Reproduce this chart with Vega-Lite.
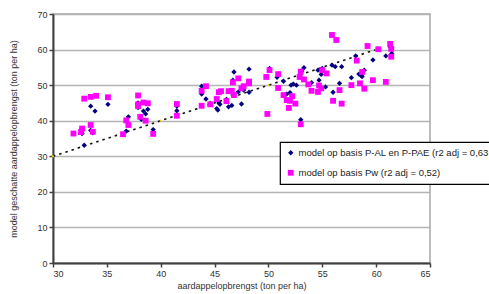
{
  "$schema": "https://vega.github.io/schema/vega-lite/v6.json",
  "width": 377,
  "height": 249,
  "autosize": {"type": "none"},
  "padding": {"left": 53, "top": 14, "right": 59, "bottom": 31},
  "background": "white",
  "config": {
    "font": "Liberation Sans",
    "view": {"stroke": "#a8a8a8", "strokeWidth": 1.5},
    "axis": {
      "labelFont": "Liberation Sans",
      "titleFont": "Liberation Sans",
      "labelFontSize": 9,
      "titleFontSize": 9,
      "titleFontWeight": 400,
      "labelColor": "#333333",
      "titleColor": "#333333",
      "domainColor": "#404040",
      "domainWidth": 2,
      "tickColor": "#404040",
      "tickWidth": 1.5,
      "tickSize": 4,
      "labelPadding": 2,
      "labelOverlap": false
    },
    "legend": {
      "orient": "none",
      "legendX": 227,
      "legendY": 128,
      "strokeColor": "black",
      "strokeWidth": 1.2,
      "fillColor": "white",
      "padding": 6,
      "labelFont": "Liberation Sans",
      "labelFontSize": 9.5,
      "labelColor": "#222222",
      "rowPadding": 9,
      "labelOffset": 3,
      "labelLimit": 400,
      "symbolStrokeWidth": 0
    }
  },
  "datasets": {
    "pts": [
      {"x": 32.7, "y": 36.4, "model": "A"},
      {"x": 32.6, "y": 37.5, "model": "A"},
      {"x": 32.9, "y": 33.1, "model": "A"},
      {"x": 33.5, "y": 37.3, "model": "A"},
      {"x": 33.7, "y": 36.6, "model": "A"},
      {"x": 33.5, "y": 44.1, "model": "A"},
      {"x": 33.9, "y": 42.7, "model": "A"},
      {"x": 35.1, "y": 44.6, "model": "A"},
      {"x": 36.8, "y": 37.1, "model": "A"},
      {"x": 37.0, "y": 41.1, "model": "A"},
      {"x": 37.9, "y": 45.0, "model": "A"},
      {"x": 37.9, "y": 43.7, "model": "A"},
      {"x": 38.2, "y": 40.4, "model": "A"},
      {"x": 38.4, "y": 42.7, "model": "A"},
      {"x": 38.6, "y": 41.9, "model": "A"},
      {"x": 38.8, "y": 43.2, "model": "A"},
      {"x": 39.3, "y": 37.5, "model": "A"},
      {"x": 41.5, "y": 42.8, "model": "A"},
      {"x": 41.5, "y": 44.1, "model": "A"},
      {"x": 43.8, "y": 49.7, "model": "A"},
      {"x": 43.8, "y": 47.5, "model": "A"},
      {"x": 44.2, "y": 46.1, "model": "A"},
      {"x": 44.6, "y": 44.9, "model": "A"},
      {"x": 45.2, "y": 43.4, "model": "A"},
      {"x": 45.3, "y": 43.0, "model": "A"},
      {"x": 45.4, "y": 45.0, "model": "A"},
      {"x": 45.5, "y": 44.6, "model": "A"},
      {"x": 46.1, "y": 46.0, "model": "A"},
      {"x": 46.3, "y": 43.9, "model": "A"},
      {"x": 46.6, "y": 44.3, "model": "A"},
      {"x": 46.7, "y": 51.4, "model": "A"},
      {"x": 46.8, "y": 53.7, "model": "A"},
      {"x": 46.7, "y": 47.2, "model": "A"},
      {"x": 47.2, "y": 48.1, "model": "A"},
      {"x": 47.5, "y": 44.7, "model": "A"},
      {"x": 47.7, "y": 48.6, "model": "A"},
      {"x": 48.2, "y": 54.5, "model": "A"},
      {"x": 48.2, "y": 48.0, "model": "A"},
      {"x": 50.1, "y": 54.7, "model": "A"},
      {"x": 50.8, "y": 52.2, "model": "A"},
      {"x": 51.4, "y": 51.1, "model": "A"},
      {"x": 51.7, "y": 47.5, "model": "A"},
      {"x": 52.0, "y": 47.9, "model": "A"},
      {"x": 52.1, "y": 50.0, "model": "A"},
      {"x": 52.3, "y": 50.3, "model": "A"},
      {"x": 52.6, "y": 50.0, "model": "A"},
      {"x": 53.0, "y": 40.3, "model": "A"},
      {"x": 53.1, "y": 54.0, "model": "A"},
      {"x": 53.3, "y": 54.9, "model": "A"},
      {"x": 54.0, "y": 50.7, "model": "A"},
      {"x": 54.6, "y": 54.2, "model": "A"},
      {"x": 54.7, "y": 51.4, "model": "A"},
      {"x": 54.9, "y": 53.0, "model": "A"},
      {"x": 55.0, "y": 54.7, "model": "A"},
      {"x": 55.3, "y": 49.5, "model": "A"},
      {"x": 55.9, "y": 55.6, "model": "A"},
      {"x": 56.0, "y": 48.0, "model": "A"},
      {"x": 56.2, "y": 55.2, "model": "A"},
      {"x": 56.6, "y": 50.5, "model": "A"},
      {"x": 56.8, "y": 55.2, "model": "A"},
      {"x": 57.7, "y": 52.1, "model": "A"},
      {"x": 58.1, "y": 58.2, "model": "A"},
      {"x": 58.4, "y": 53.1, "model": "A"},
      {"x": 58.6, "y": 52.7, "model": "A"},
      {"x": 58.7, "y": 52.4, "model": "A"},
      {"x": 58.9, "y": 54.2, "model": "A"},
      {"x": 59.7, "y": 57.1, "model": "A"},
      {"x": 60.9, "y": 58.2, "model": "A"},
      {"x": 61.3, "y": 60.7, "model": "A"},
      {"x": 61.45, "y": 58.9, "model": "A"},
      {"x": 31.9, "y": 36.4, "model": "B"},
      {"x": 32.7, "y": 37.8, "model": "B"},
      {"x": 32.6, "y": 36.8, "model": "B"},
      {"x": 32.9, "y": 46.2, "model": "B"},
      {"x": 33.5, "y": 46.7, "model": "B"},
      {"x": 34.0, "y": 47.0, "model": "B"},
      {"x": 33.5, "y": 38.8, "model": "B"},
      {"x": 33.7, "y": 36.9, "model": "B"},
      {"x": 35.1, "y": 46.6, "model": "B"},
      {"x": 36.5, "y": 36.2, "model": "B"},
      {"x": 36.8, "y": 40.1, "model": "B"},
      {"x": 37.0, "y": 38.8, "model": "B"},
      {"x": 37.9, "y": 47.1, "model": "B"},
      {"x": 37.9, "y": 44.6, "model": "B"},
      {"x": 37.9, "y": 44.1, "model": "B"},
      {"x": 38.1, "y": 41.1, "model": "B"},
      {"x": 38.4, "y": 45.1, "model": "B"},
      {"x": 38.6, "y": 40.0, "model": "B"},
      {"x": 38.8, "y": 44.9, "model": "B"},
      {"x": 39.3, "y": 36.3, "model": "B"},
      {"x": 41.5, "y": 44.7, "model": "B"},
      {"x": 41.5, "y": 41.4, "model": "B"},
      {"x": 43.8, "y": 48.4, "model": "B"},
      {"x": 43.8, "y": 44.2, "model": "B"},
      {"x": 44.2, "y": 49.7, "model": "B"},
      {"x": 44.6, "y": 44.6, "model": "B"},
      {"x": 45.2, "y": 46.1, "model": "B"},
      {"x": 45.4, "y": 48.0, "model": "B"},
      {"x": 45.6, "y": 48.3, "model": "B"},
      {"x": 46.1, "y": 45.5, "model": "B"},
      {"x": 46.3, "y": 48.3, "model": "B"},
      {"x": 46.6, "y": 48.4, "model": "B"},
      {"x": 46.7, "y": 50.8, "model": "B"},
      {"x": 46.8, "y": 47.2, "model": "B"},
      {"x": 47.2, "y": 51.9, "model": "B"},
      {"x": 47.5, "y": 49.1, "model": "B"},
      {"x": 47.7, "y": 49.7, "model": "B"},
      {"x": 48.2, "y": 51.0, "model": "B"},
      {"x": 48.2, "y": 50.5, "model": "B"},
      {"x": 49.8, "y": 52.3, "model": "B"},
      {"x": 49.9, "y": 41.9, "model": "B"},
      {"x": 50.1, "y": 54.2, "model": "B"},
      {"x": 50.9, "y": 53.1, "model": "B"},
      {"x": 50.9, "y": 49.2, "model": "B"},
      {"x": 51.4, "y": 47.2, "model": "B"},
      {"x": 51.7, "y": 45.8, "model": "B"},
      {"x": 51.9, "y": 43.6, "model": "B"},
      {"x": 52.0, "y": 45.6, "model": "B"},
      {"x": 52.2, "y": 46.9, "model": "B"},
      {"x": 52.5, "y": 44.8, "model": "B"},
      {"x": 52.9, "y": 52.3, "model": "B"},
      {"x": 53.0, "y": 53.8, "model": "B"},
      {"x": 53.0, "y": 39.0, "model": "B"},
      {"x": 53.3, "y": 51.6, "model": "B"},
      {"x": 53.7, "y": 50.2, "model": "B"},
      {"x": 54.0, "y": 48.4, "model": "B"},
      {"x": 54.6, "y": 48.1, "model": "B"},
      {"x": 54.7, "y": 49.9, "model": "B"},
      {"x": 54.9, "y": 49.1, "model": "B"},
      {"x": 55.0, "y": 54.2, "model": "B"},
      {"x": 55.4, "y": 53.3, "model": "B"},
      {"x": 55.9, "y": 64.1, "model": "B"},
      {"x": 56.3, "y": 62.7, "model": "B"},
      {"x": 56.0, "y": 45.6, "model": "B"},
      {"x": 56.6, "y": 48.6, "model": "B"},
      {"x": 56.8, "y": 44.8, "model": "B"},
      {"x": 57.7, "y": 50.0, "model": "B"},
      {"x": 58.2, "y": 56.9, "model": "B"},
      {"x": 58.5, "y": 50.5, "model": "B"},
      {"x": 58.7, "y": 53.7, "model": "B"},
      {"x": 58.9, "y": 49.0, "model": "B"},
      {"x": 59.2, "y": 61.0, "model": "B"},
      {"x": 59.7, "y": 51.4, "model": "B"},
      {"x": 60.2, "y": 60.1, "model": "B"},
      {"x": 60.9, "y": 50.9, "model": "B"},
      {"x": 61.3, "y": 61.6, "model": "B"},
      {"x": 61.4, "y": 60.2, "model": "B"},
      {"x": 61.4, "y": 58.0, "model": "B"}
    ],
    "ref": [
      {"x": 30, "y": 30},
      {"x": 40, "y": 40},
      {"x": 50, "y": 50},
      {"x": 60, "y": 60}
    ]
  },
  "encoding": {
    "x": {
      "field": "x", "type": "quantitative",
      "scale": {"domain": [30, 65], "nice": false, "zero": false},
      "axis": {"values": [30, 35, 40, 45, 50, 55, 60, 65], "grid": false, "title": "aardappelopbrengst (ton per ha)", "titlePadding": 3, "titleFont": "Liberation Sans", "labelFont": "Liberation Sans"}
    },
    "y": {
      "field": "y", "type": "quantitative",
      "scale": {"domain": [0, 70], "nice": false, "zero": true},
      "axis": {"values": [0, 10, 20, 30, 40, 50, 60, 70], "tickCount": 8, "grid": true, "gridColor": "#b4b4b4", "gridWidth": 1.5, "title": "model geschatte aardappelopbrengst (ton per ha)", "titlePadding": 18, "titleFont": "Liberation Sans", "labelFont": "Liberation Sans"}
    }
  },
  "layer": [
    {
      "data": {"name": "ref"},
      "mark": {"type": "line", "color": "#111111", "strokeWidth": 1.6, "strokeDash": [2.5, 4]}
    },
    {
      "data": {"name": "ref"},
      "mark": {"type": "point", "filled": true, "color": "#f0e000", "size": 5, "opacity": 1}
    },
    {
      "data": {"name": "pts"},
      "mark": {"type": "point", "filled": true, "opacity": 1},
      "encoding": {
        "color": {
          "field": "model", "type": "nominal",
          "scale": {"domain": ["A", "B"], "range": ["#000080", "#ff00ff"]},
          "legend": {"title": null, "labelExpr": "datum.value == 'A' ? 'model op basis P-AL en P-PAE (r2 adj = 0,63' : 'model op basis Pw (r2 adj = 0,52)'"}
        },
        "shape": {
          "field": "model", "type": "nominal",
          "scale": {"domain": ["A", "B"], "range": ["diamond", "square"]},
          "legend": {"title": null, "labelExpr": "datum.value == 'A' ? 'model op basis P-AL en P-PAE (r2 adj = 0,63' : 'model op basis Pw (r2 adj = 0,52)'"}
        },
        "size": {
          "field": "model", "type": "nominal",
          "scale": {"domain": ["A", "B"], "range": [28, 34]},
          "legend": null
        },
        "order": {"field": "model", "type": "nominal"}
      }
    }
  ]
}
